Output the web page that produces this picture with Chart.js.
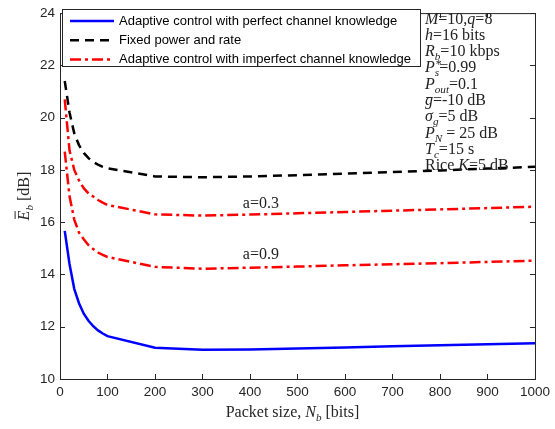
<!DOCTYPE html>
<html>
<head>
<meta charset="utf-8">
<script src="https://cdn.jsdelivr.net/npm/chart.js@4.4.0/dist/chart.umd.min.js"></script>
<style>
  body { margin: 0; background: #fff; }
  canvas { display: block; }
</style>
</head>
<body>
<canvas id="myChart" width="555" height="429"></canvas>
<script>
// packet sizes N_b [bits]
const packetSizes = [10, 20, 30, 40, 50, 60, 70, 80, 90, 100, 200, 300, 400, 500, 600, 700, 800, 900, 1000];

// average Eb [dB] per scheme
const perfectCsi = [15.67, 14.4, 13.45, 12.9, 12.5, 12.23, 12.02, 11.86, 11.74, 11.64, 11.2, 11.12, 11.13, 11.17, 11.21, 11.25, 11.29, 11.33, 11.37];
const fixedPowerRate = [21.4, 20.2, 19.4, 18.95, 18.65, 18.45, 18.3, 18.2, 18.12, 18.06, 17.75, 17.72, 17.75, 17.8, 17.86, 17.92, 17.98, 18.05, 18.12];
const imperfectA03 = [20.7, 18.75, 18.0, 17.6, 17.3, 17.1, 16.98, 16.85, 16.75, 16.66, 16.3, 16.25, 16.29, 16.34, 16.39, 16.44, 16.49, 16.54, 16.59];
const imperfectA09 = [18.7, 17.0, 16.1, 15.6, 15.35, 15.12, 14.97, 14.84, 14.75, 14.67, 14.29, 14.22, 14.26, 14.3, 14.35, 14.39, 14.43, 14.48, 14.53];

const xTicks = [0, 100, 200, 300, 400, 500, 600, 700, 800, 900, 1000];
const yTicks = [10, 12, 14, 16, 18, 20, 22, 24];

const legendLabels = [
  'Adaptive control with perfect channel knowledge',
  'Fixed power and rate',
  'Adaptive control with imperfect channel knowledge'
];

const axisColor = '#262626';
const sans = '"Liberation Sans", Arial, sans-serif';
const serif = '"Liberation Serif", "Times New Roman", serif';

const toPoints = ys => ys.map((y, i) => ({ x: packetSizes[i], y: y }));

const dashRed = [11, 4, 3, 4];
const dashBlack = [9, 6];

// rich text: parts with italic / sub / sup / overbar
function drawRich(ctx, x, y, parts, size) {
  let cx = x;
  for (const p of parts) {
    let fs = size, dy = 0;
    if (p.sub) { fs = size * 0.7; dy = size * 0.25; }
    if (p.sup) { fs = size * 0.75; dy = -size * 0.3; }
    ctx.font = (p.it ? 'italic ' : '') + fs + 'px ' + serif;
    ctx.fillText(p.t, cx + (p.dx || 0), y + dy);
    const w = ctx.measureText(p.t).width;
    if (p.bar) {
      ctx.fillRect(cx + w * 0.15, y - size * (p.barH || 0.62), w * 0.8, Math.max(1, size * 0.06));
    }
    if (!p.stack) cx += w;
  }
  return cx - x;
}

function richWidth(ctx, parts, size) {
  let w = 0;
  for (const p of parts) {
    const fs = (p.sub || p.sup) ? size * 0.7 : size;
    ctx.font = (p.it ? 'italic ' : '') + fs + 'px ' + serif;
    if (!p.stack) w += ctx.measureText(p.t).width;
  }
  return w;
}

const paramLines = [
  [{ t: 'M', it: true }, { t: '=10,' }, { t: 'q', it: true }, { t: '=8' }],
  [{ t: 'h', it: true }, { t: '=16 bits' }],
  [{ t: 'R', it: true }, { t: 'b', it: true, sub: true }, { t: '=10 kbps' }],
  [{ t: 'P', it: true }, { t: '*', sup: true, stack: true, dx: 1 }, { t: 's', it: true, sub: true }, { t: '=0.99' }],
  [{ t: 'P', it: true }, { t: 'out', it: true, sub: true }, { t: '=0.1' }],
  [{ t: 'g', it: true, bar: true, barH: 0.5 }, { t: '=-10 dB' }],
  [{ t: 'σ', it: true }, { t: 'g', it: true, sub: true }, { t: '=5 dB' }],
  [{ t: 'P', it: true }, { t: 'N', it: true, sub: true }, { t: ' = 25 dB' }],
  [{ t: 'T', it: true }, { t: 'c', it: true, sub: true }, { t: '=15 s' }],
  [{ t: 'Rice ' }, { t: 'K', it: true }, { t: '=5 dB' }]
];

// curve labels placed in data coordinates
const curveNotes = [
  { text: 'a=0.3', x: 423, y: 16.7 },
  { text: 'a=0.9', x: 423, y: 14.74 }
];

const framePlugin = {
  id: 'frame',
  afterDatasetsDraw(chart) {
    const { ctx, chartArea: a, scales: { x, y } } = chart;
    ctx.save();
    ctx.strokeStyle = axisColor;
    ctx.lineWidth = 1;
    ctx.strokeRect(a.left + 0.5, a.top + 0.5, a.right - a.left, a.bottom - a.top);
    ctx.beginPath();
    const tl = 5;
    xTicks.forEach(v => {
      const px = Math.round(x.getPixelForValue(v)) + 0.5;
      ctx.moveTo(px, a.bottom); ctx.lineTo(px, a.bottom - tl);
      ctx.moveTo(px, a.top); ctx.lineTo(px, a.top + tl);
    });
    yTicks.forEach(v => {
      const py = Math.round(y.getPixelForValue(v)) + 0.5;
      ctx.moveTo(a.left, py); ctx.lineTo(a.left + tl, py);
      ctx.moveTo(a.right, py); ctx.lineTo(a.right - tl, py);
    });
    ctx.stroke();

    // curve notes
    ctx.fillStyle = '#222';
    ctx.textBaseline = 'middle';
    ctx.textAlign = 'center';
    ctx.font = '16px ' + serif;
    curveNotes.forEach(n => ctx.fillText(n.text, x.getPixelForValue(n.x), y.getPixelForValue(n.y)));

    // parameter list
    ctx.textAlign = 'left';
    ctx.textBaseline = 'alphabetic';
    paramLines.forEach((parts, i) => drawRich(ctx, 425, 23.5 + i * 16.3, parts, 16));

    // legend
    ctx.fillStyle = '#fff';
    ctx.fillRect(62.5, 9.5, 358, 57);
    ctx.strokeStyle = axisColor;
    ctx.strokeRect(62.5, 9.5, 358, 57);
    ctx.font = '13px ' + sans;
    ctx.textBaseline = 'middle';
    legendLabels.forEach((lbl, i) => {
      const ds = chart.data.datasets[i];
      const ly = 21 + i * 19.2;
      ctx.save();
      ctx.strokeStyle = ds.borderColor;
      ctx.lineWidth = ds.borderWidth;
      ctx.setLineDash(ds.borderDash || []);
      ctx.beginPath();
      ctx.moveTo(70, ly); ctx.lineTo(114, ly);
      ctx.stroke();
      ctx.restore();
      ctx.fillStyle = '#000';
      ctx.fillText(lbl, 119, ly + 0.5);
    });

    // axis titles
    ctx.fillStyle = '#262626';
    ctx.textBaseline = 'alphabetic';
    const xt = [{ t: 'Packet size, ' }, { t: 'N', it: true }, { t: 'b', it: true, sub: true }, { t: ' [bits]' }];
    const xw = richWidth(ctx, xt, 16);
    drawRich(ctx, (a.left + a.right) / 2 - xw / 2 - 5, 417, xt, 16);

    const yt = [{ t: 'E', it: true, bar: true, barH: 0.9 }, { t: 'b', it: true, sub: true }, { t: ' [dB]' }];
    const yw = richWidth(ctx, yt, 16);
    ctx.save();
    ctx.translate(29, (a.top + a.bottom) / 2);
    ctx.rotate(-Math.PI / 2);
    drawRich(ctx, -yw / 2, 0, yt, 16);
    ctx.restore();
    ctx.restore();
  }
};

const data = {
  datasets: [{
    label: legendLabels[0],
    data: toPoints(perfectCsi),
    borderColor: '#0000ff',
    borderWidth: 2.5
  }, {
    label: legendLabels[1],
    data: toPoints(fixedPowerRate),
    borderColor: '#000000',
    borderWidth: 2.5,
    borderDash: dashBlack
  }, {
    label: legendLabels[2],
    data: toPoints(imperfectA03),
    borderColor: '#ff0000',
    borderWidth: 2.5,
    borderDash: dashRed
  }, {
    label: 'a=0.9',
    data: toPoints(imperfectA09),
    borderColor: '#ff0000',
    borderWidth: 2.5,
    borderDash: dashRed
  }]
};

const tickFont = { family: sans, size: 13.5 };

const config = {
  type: 'line',
  data,
  options: {
    responsive: false,
    animation: false,
    layout: { padding: { top: 6, right: 17, left: 0, bottom: 0 } },
    elements: { point: { radius: 0 }, line: { tension: 0, borderCapStyle: 'butt' } },
    plugins: { legend: { display: false }, tooltip: { enabled: false } },
    scales: {
      x: {
        type: 'linear',
        min: 0,
        max: 1000,
        ticks: { stepSize: 100, color: axisColor, font: tickFont, padding: 5, maxRotation: 0, callback: v => String(v) },
        grid: { display: false, drawTicks: false },
        border: { display: false },
        afterFit: s => { s.height = 50; }
      },
      y: {
        min: 10,
        max: 24,
        ticks: { stepSize: 2, color: axisColor, font: tickFont, padding: 5, callback: v => String(v) },
        grid: { display: false, drawTicks: false },
        border: { display: false },
        afterFit: s => { s.width = 60; }
      }
    }
  },
  plugins: [framePlugin]
};

const myChart = new Chart(document.getElementById('myChart'), config);
</script>
</body>
</html>
